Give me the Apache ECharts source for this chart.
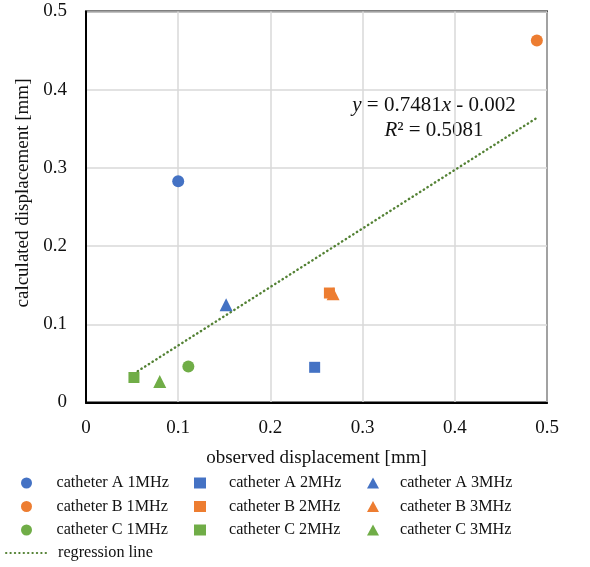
<!DOCTYPE html>
<html>
<head>
<meta charset="utf-8">
<script src="https://cdn.jsdelivr.net/npm/echarts@6/dist/echarts.min.js"></script>
<style>html,body{margin:0;padding:0;background:#fff;}#c{width:590px;height:567px;}</style>
</head>
<body>
<div id="c"></div>
<script>
// Data: [observed, calculated] in mm
const catA1 = [[0.100, 0.283]];
const catA2 = [[0.248, 0.045]];
const catA3 = [[0.152, 0.125]];
const catB1 = [[0.489, 0.463]];
const catB2 = [[0.264, 0.140]];
const catB3 = [[0.268, 0.139]];
const catC1 = [[0.111, 0.046]];
const catC2 = [[0.052, 0.032]];
const catC3 = [[0.080, 0.027]];
const regressionLine = [[0.052, 0.037], [0.489, 0.364]];
const axisTicks = [0, 0.1, 0.2, 0.3, 0.4, 0.5];
const equationLines = ['{i|y} = 0.7481{i|x} - 0.002', '{i|R}² = 0.5081'];

const BLUE = '#4472C4', ORANGE = '#ED7D31', GREEN = '#70AD47', DKGREEN = '#548235';
const FONT = 'Liberation Serif';
const TXT = '#111';

function sc(name, data, color, symbol, size) {
  return { name, type: 'scatter', data, symbol, symbolSize: size,
    itemStyle: { color, opacity: 1 }, z: 3 };
}

const series = [
  sc('catheter A 1MHz', catA1, BLUE, 'circle', 12),
  sc('catheter B 1MHz', catB1, ORANGE, 'circle', 12),
  sc('catheter C 1MHz', catC1, GREEN, 'circle', 12),
  sc('catheter A 2MHz', catA2, BLUE, 'rect', 11),
  sc('catheter B 2MHz', catB2, ORANGE, 'rect', 11),
  sc('catheter C 2MHz', catC2, GREEN, 'rect', 11),
  sc('catheter A 3MHz', catA3, BLUE, 'triangle', 13),
  sc('catheter B 3MHz', catB3, ORANGE, 'triangle', 13),
  sc('catheter C 3MHz', catC3, GREEN, 'triangle', 13),
  { name: 'regression line', type: 'line', data: regressionLine, symbol: 'none',
    lineStyle: { color: DKGREEN, width: 2.4, type: [0.4, 4], cap: 'round' }, itemStyle: { color: DKGREEN }, z: 2 }
];

function legendCol(left, padLeft, names) {
  return {
    orient: 'vertical', left, top: 475, padding: 0,
    itemWidth: 12, itemHeight: 11, itemGap: 7.5,
    textStyle: { fontFamily: FONT, fontSize: 16.2, color: TXT, padding: [0, 0, 0, padLeft] },
    data: names
  };
}

const option = {
  animation: false,
  backgroundColor: '#fff',
  grid: { left: 86, right: 43, top: 11.5, bottom: 164.5, show: true, borderColor: '#000', borderWidth: 2 },
  xAxis: {
    type: 'value', min: axisTicks[0], max: axisTicks[axisTicks.length - 1], interval: 0.1,
    name: 'observed displacement [mm]', nameLocation: 'middle', nameGap: 46,
    nameTextStyle: { fontFamily: FONT, fontSize: 19, color: TXT },
    axisLine: { show: true, lineStyle: { color: '#000', width: 2 } },
    axisTick: { show: false },
    axisLabel: { fontFamily: FONT, fontSize: 19, color: TXT, margin: 16 },
    splitLine: { show: true, lineStyle: { color: '#D9D9D9', width: 1.5 } }
  },
  yAxis: {
    type: 'value', min: axisTicks[0], max: axisTicks[axisTicks.length - 1], interval: 0.1,
    name: 'calculated displacement [mm]', nameLocation: 'middle', nameGap: 51,
    nameTextStyle: { fontFamily: FONT, fontSize: 19, color: TXT, padding: [0, 0, 0, 28] },
    axisLine: { show: true, lineStyle: { color: '#000', width: 2 } },
    axisTick: { show: false },
    axisLabel: { fontFamily: FONT, fontSize: 19, color: TXT, margin: 19 },
    splitLine: { show: true, lineStyle: { color: '#D9D9D9', width: 1.5 } }
  },
  legend: [
    legendCol(21, 19, ['catheter A 1MHz', 'catheter B 1MHz', 'catheter C 1MHz']),
    legendCol(194, 18, ['catheter A 2MHz', 'catheter B 2MHz', 'catheter C 2MHz']),
    legendCol(367, 16, ['catheter A 3MHz', 'catheter B 3MHz', 'catheter C 3MHz']),
    {
      orient: 'vertical', left: 5, top: 545, padding: 0, itemWidth: 43, itemHeight: 11,
      itemStyle: { color: 'rgba(0,0,0,0)', borderWidth: 0 },
      textStyle: { fontFamily: FONT, fontSize: 16.2, color: TXT, padding: [0, 0, 0, 4] },
      data: ['regression line']
    }
  ],
  graphic: [
    { type: 'text', x: 434, y: 105, style: {
      text: equationLines[0], fill: TXT, align: 'center', verticalAlign: 'middle',
      font: '21px "Liberation Serif"',
      rich: { i: { fontStyle: 'italic', fontFamily: FONT, fontSize: 21, fill: TXT } }
    }},
    { type: 'text', x: 434, y: 130, style: {
      text: equationLines[1], fill: TXT, align: 'center', verticalAlign: 'middle',
      font: '21px "Liberation Serif"',
      rich: { i: { fontStyle: 'italic', fontFamily: FONT, fontSize: 21, fill: TXT } }
    }}
  ],
  series
};

echarts.init(document.getElementById('c'), null, { renderer: 'canvas' }).setOption(option);
</script>
</body>
</html>
